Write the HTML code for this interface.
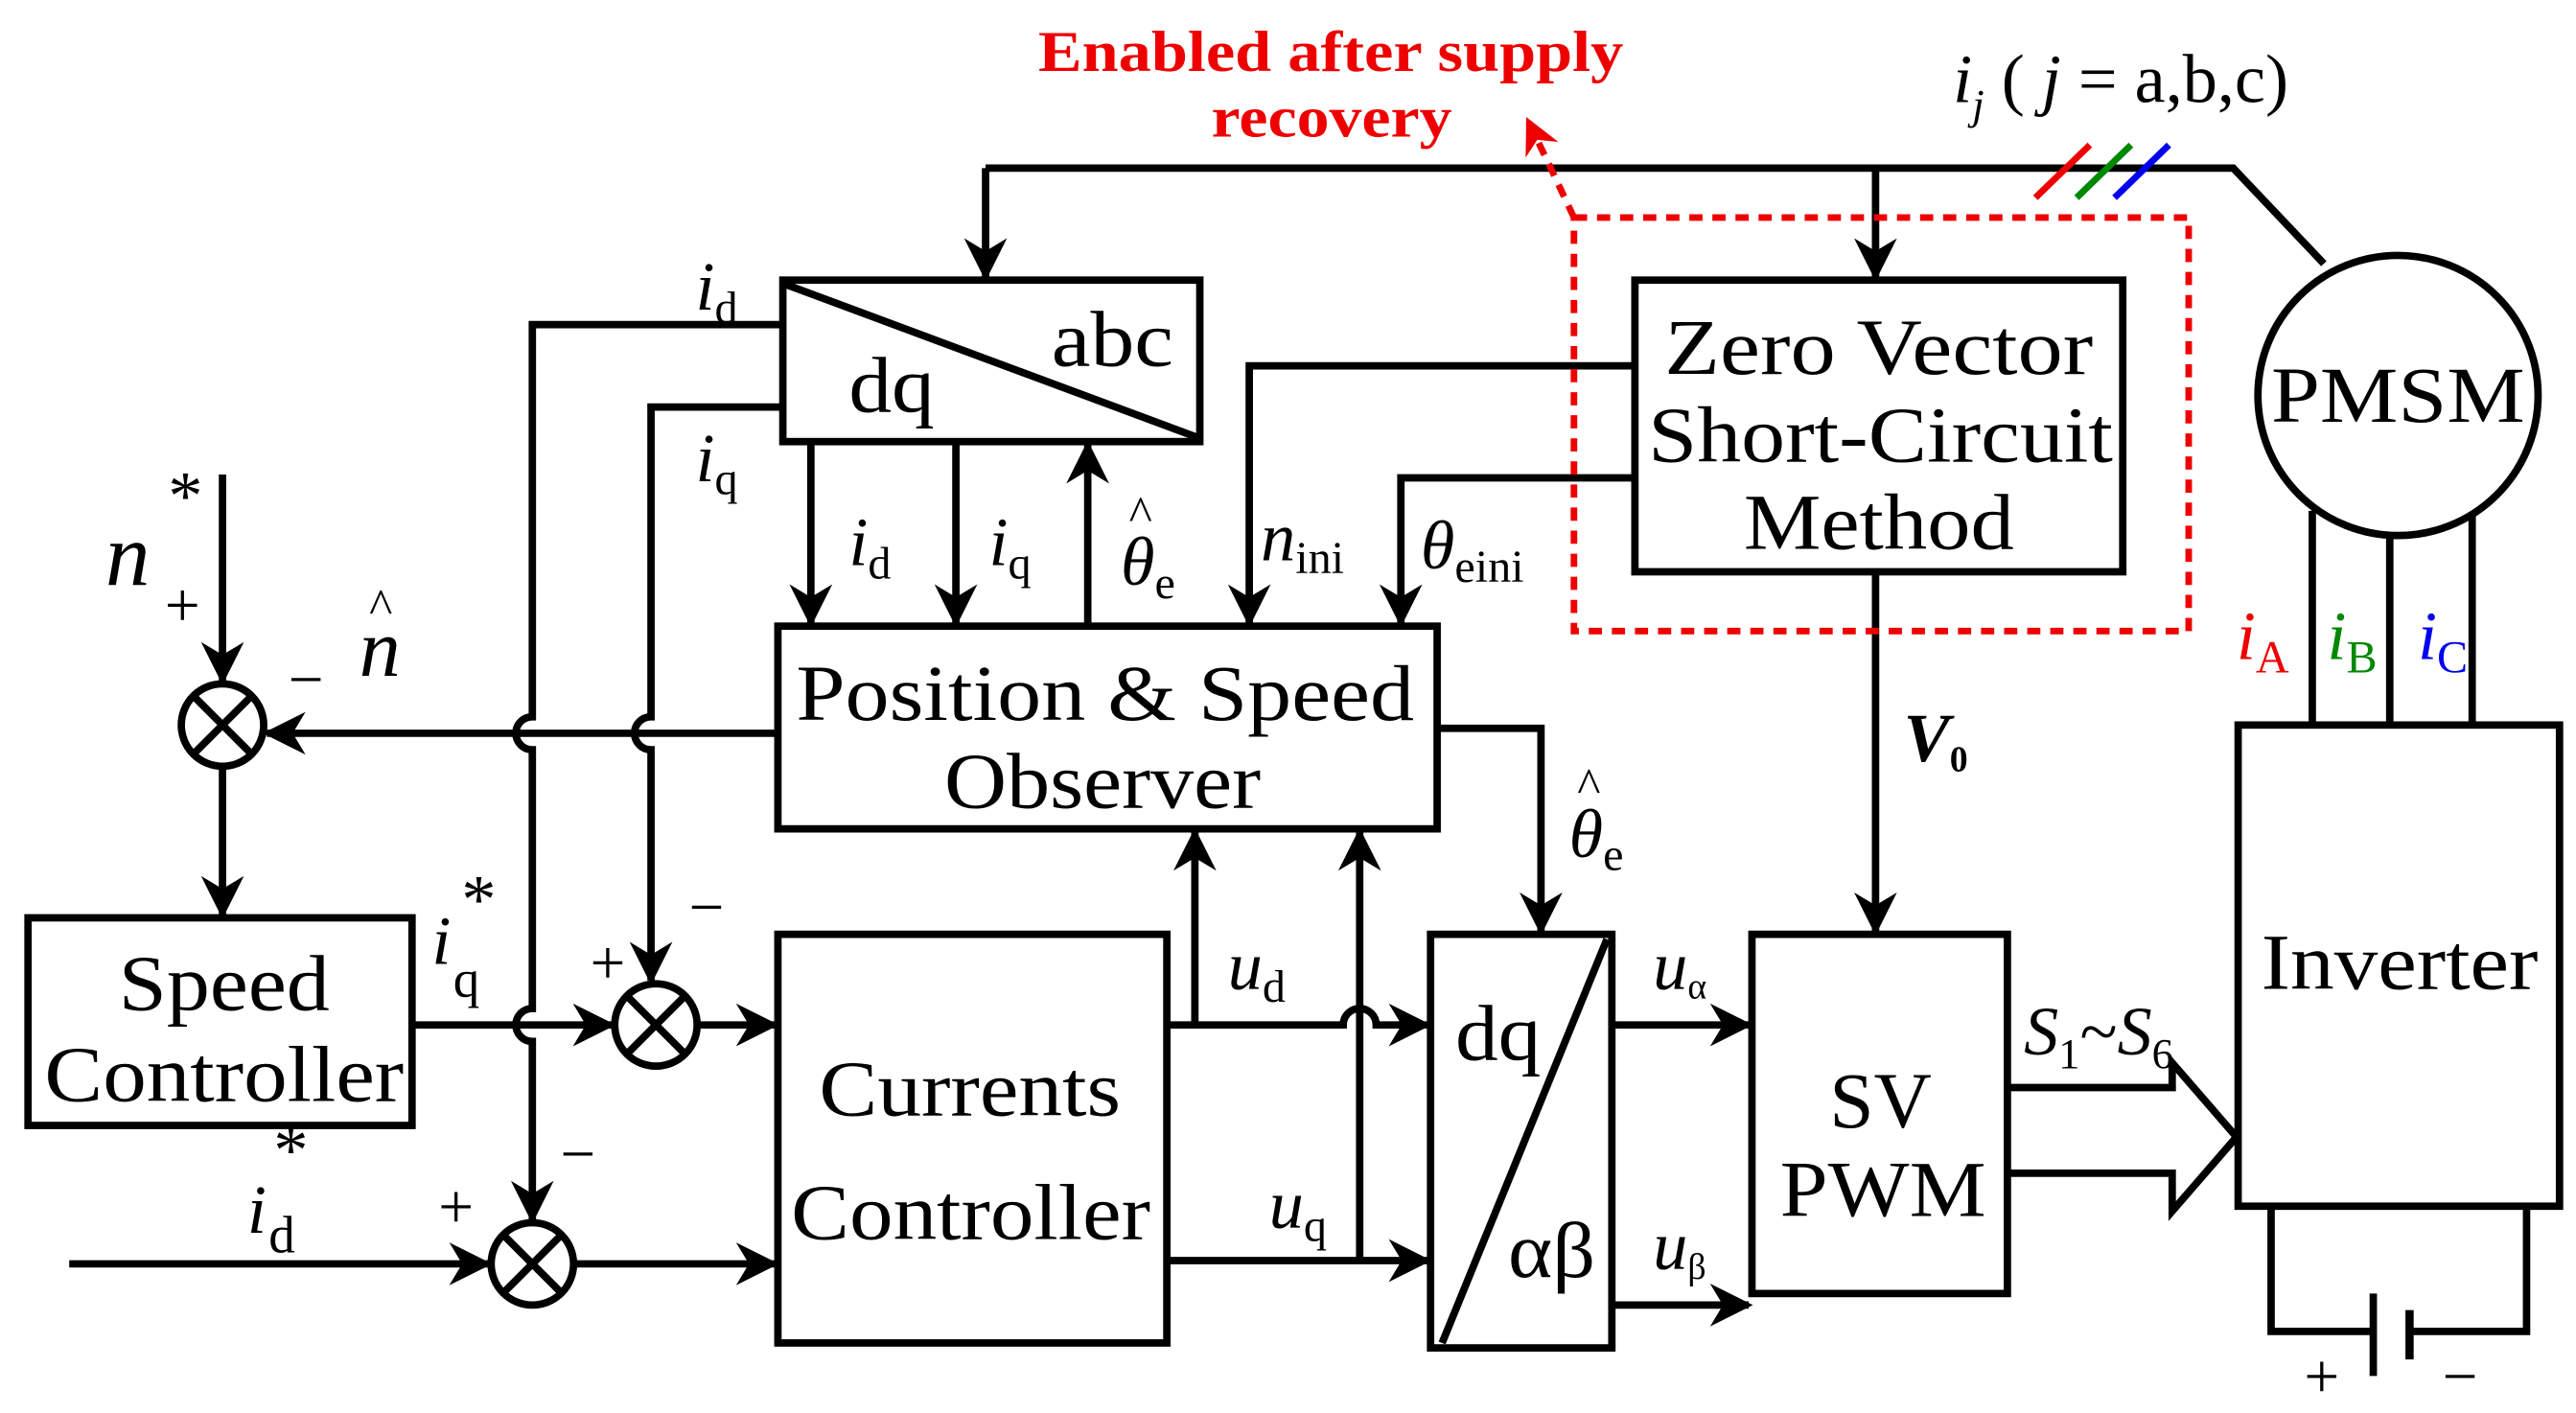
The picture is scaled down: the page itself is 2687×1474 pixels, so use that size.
<!DOCTYPE html>
<html><head><meta charset="utf-8"><style>html,body{margin:0;padding:0;background:#fff}svg{display:block}text{font-family:"Liberation Serif",serif}</style></head><body>
<svg width="2687" height="1474" viewBox="0 0 1563 857.5" preserveAspectRatio="none" xmlns="http://www.w3.org/2000/svg">
<defs><marker id="ar" viewBox="0 0 10 10" markerWidth="22" markerHeight="22" refX="9" refY="5" orient="auto" markerUnits="userSpaceOnUse"><path d="M0,0 L10,5 L0,10 L3,5 z" fill="#e00"/></marker>
<marker id="b" viewBox="0 0 10 10" markerWidth="26" markerHeight="26" refX="9" refY="5" orient="auto" markerUnits="userSpaceOnUse"><path d="M0,0 L10,5 L0,10 L3,5 z" fill="#000"/></marker></defs>
<g fill="none" stroke="#000" stroke-width="4.5">
<polyline points="598,102 1355,102 1410,160"/>
<line x1="598" y1="102" x2="598" y2="168" marker-end="url(#b)"/>
<line x1="1138" y1="102" x2="1138" y2="168" marker-end="url(#b)"/>
<rect x="475" y="170" width="253" height="98"/>
<line x1="475" y1="172" x2="728" y2="266"/>
<rect x="992" y="170" width="296" height="177"/>
<circle cx="1455" cy="240" r="85"/>
<line x1="1403" y1="310" x2="1403" y2="440"/><line x1="1450" y1="325" x2="1450" y2="440"/><line x1="1500" y1="312" x2="1500" y2="440"/>
<rect x="1358" y="440" width="195" height="292"/>
<polyline points="1378,732 1378,808 1440,808"/><polyline points="1533,732 1533,808 1462,808"/>
<line x1="1440" y1="785" x2="1440" y2="835"/><line x1="1462" y1="795" x2="1462" y2="825" stroke-width="5"/>
<rect x="1063" y="567" width="155" height="218"/>
<line x1="1138" y1="347" x2="1138" y2="565" marker-end="url(#b)"/>
<path d="M1218,660 L1318,660 L1318,645 L1357,690 L1318,735 L1318,712 L1218,712"/>
<rect x="868" y="567" width="110" height="251"/>
<line x1="875" y1="815" x2="975" y2="570"/>
<line x1="978" y1="622" x2="1061" y2="622" marker-end="url(#b)"/>
<line x1="978" y1="792" x2="1061" y2="792" marker-end="url(#b)"/>
<rect x="472" y="380" width="400" height="123"/>
<rect x="472" y="567" width="236" height="248"/>
<path d="M708,622 L815,622 A10,10 0 0 1 835,622 L866,622" marker-end="url(#b)"/>
<line x1="708" y1="765" x2="866" y2="765" marker-end="url(#b)"/>
<line x1="725" y1="622" x2="725" y2="505" marker-end="url(#b)"/>
<line x1="825" y1="765" x2="825" y2="505" marker-end="url(#b)"/>
<polyline points="872,442 935,442 935,565" marker-end="url(#b)"/>
<line x1="492" y1="268" x2="492" y2="378" marker-end="url(#b)"/>
<line x1="580" y1="268" x2="580" y2="378" marker-end="url(#b)"/>
<line x1="660" y1="380" x2="660" y2="270" marker-end="url(#b)"/>
<polyline points="992,222 758,222 758,378" marker-end="url(#b)"/>
<polyline points="992,290 850,290 850,378" marker-end="url(#b)"/>
<path d="M475,197 L323,197 L323,435 A10,10 0 0 0 323,455 L323,612 A10,10 0 0 0 323,632 L323,740" marker-end="url(#b)"/>
<circle cx="323" cy="767" r="25"/>
<line x1="305" y1="749" x2="341" y2="785"/><line x1="341" y1="749" x2="305" y2="785"/>
<path d="M475,247 L395,247 L395,435 A10,10 0 0 0 395,455 L395,595" marker-end="url(#b)"/>
<circle cx="398" cy="622" r="25"/>
<line x1="380" y1="604" x2="416" y2="640"/><line x1="416" y1="604" x2="380" y2="640"/>
<line x1="472" y1="445" x2="162" y2="445" marker-end="url(#b)"/>
<circle cx="135" cy="440" r="25"/>
<line x1="117" y1="422" x2="153" y2="458"/><line x1="153" y1="422" x2="117" y2="458"/>
<line x1="135" y1="288" x2="135" y2="413" marker-end="url(#b)"/>
<line x1="135" y1="465" x2="135" y2="555" marker-end="url(#b)"/>
<rect x="17" y="557" width="233" height="126"/>
<line x1="250" y1="622" x2="371" y2="622" marker-end="url(#b)"/>
<line x1="423" y1="622" x2="470" y2="622" marker-end="url(#b)"/>
<line x1="42" y1="767" x2="296" y2="767" marker-end="url(#b)"/>
<line x1="348" y1="767" x2="470" y2="767" marker-end="url(#b)"/>
</g>
<g stroke-width="4"><line x1="1235" y1="120" x2="1268" y2="88" stroke="#e00"/><line x1="1260" y1="120" x2="1293" y2="88" stroke="#080"/><line x1="1283" y1="120" x2="1316" y2="88" stroke="#00e"/></g>
<rect x="955" y="132" width="373" height="251" fill="none" stroke="#e00" stroke-width="4" stroke-dasharray="8,6"/>
<polyline points="955,132 940,100 927,73" fill="none" stroke="#e00" stroke-width="4" stroke-dasharray="8,6" marker-end="url(#ar)"/>
<g fill="#e00" font-weight="bold" font-size="35"><text x="630" y="43" textLength="355" lengthAdjust="spacingAndGlyphs">Enabled after supply</text><text x="735" y="83" textLength="146" lengthAdjust="spacingAndGlyphs">recovery</text></g>
<g font-size="48" lengthAdjust="spacingAndGlyphs">
<text x="638" y="222" textLength="74" lengthAdjust="spacingAndGlyphs">abc</text><text x="515" y="250" textLength="52" lengthAdjust="spacingAndGlyphs">dq</text>
<text x="1010" y="227" textLength="260" lengthAdjust="spacingAndGlyphs">Zero Vector</text>
<text x="1000" y="280" textLength="282" lengthAdjust="spacingAndGlyphs">Short-Circuit</text>
<text x="1058" y="333" textLength="164" lengthAdjust="spacingAndGlyphs">Method</text>
<text x="1378" y="256" textLength="154" lengthAdjust="spacingAndGlyphs">PMSM</text>
<text x="1372" y="600" textLength="168" lengthAdjust="spacingAndGlyphs">Inverter</text>
<text x="1110" y="684" textLength="62" lengthAdjust="spacingAndGlyphs">SV</text>
<text x="1080" y="738" textLength="125" lengthAdjust="spacingAndGlyphs">PWM</text>
<text x="883" y="643" textLength="52" lengthAdjust="spacingAndGlyphs">dq</text>
<text x="915" y="775" textLength="53" lengthAdjust="spacingAndGlyphs">αβ</text>
<text x="483" y="437" textLength="375" lengthAdjust="spacingAndGlyphs">Position &amp; Speed</text>
<text x="573" y="490" textLength="192" lengthAdjust="spacingAndGlyphs">Observer</text>
<text x="497" y="677" textLength="183" lengthAdjust="spacingAndGlyphs">Currents</text>
<text x="480" y="752" textLength="218" lengthAdjust="spacingAndGlyphs">Controller</text>
<text x="72" y="613" textLength="128" lengthAdjust="spacingAndGlyphs">Speed</text>
<text x="27" y="668" textLength="218" lengthAdjust="spacingAndGlyphs">Controller</text>
</g>
<g font-size="42" font-style="italic">
<text x="1185" y="62">i<tspan font-size="26" dy="10">j</tspan><tspan dy="-10" font-style="normal"> ( </tspan>j<tspan font-style="normal"> = a,b,c)</tspan></text>
<text x="422" y="188">i<tspan font-size="28" dy="8" font-style="normal">d</tspan></text>
<text x="422" y="292">i<tspan font-size="28" dy="8" font-style="normal">q</tspan></text>
<text x="515" y="343">i<tspan font-size="28" dy="8" font-style="normal">d</tspan></text>
<text x="600" y="343">i<tspan font-size="28" dy="8" font-style="normal">q</tspan></text>
<text x="680" y="355">θ<tspan font-size="28" dy="8" font-style="normal">e</tspan></text>
<text x="685" y="322" font-style="normal" font-size="30">^</text>
<text x="765" y="340">n<tspan font-size="28" dy="8" font-style="normal">ini</tspan></text>
<text x="862" y="345">θ<tspan font-size="28" dy="8" font-style="normal">eini</tspan></text>
<text x="1357" y="400" fill="#e00">i<tspan font-size="28" dy="8" font-style="normal">A</tspan></text>
<text x="1412" y="400" fill="#080">i<tspan font-size="28" dy="8" font-style="normal">B</tspan></text>
<text x="1467" y="400" fill="#00e">i<tspan font-size="28" dy="8" font-style="normal">C</tspan></text>
<text x="1155" y="462" font-weight="bold">V<tspan font-size="22" dy="6" font-style="normal">0</tspan></text>
<text x="952" y="520">θ<tspan font-size="28" dy="8" font-style="normal">e</tspan></text>
<text x="957" y="487" font-style="normal" font-size="30">^</text>
<text x="1228" y="640">S<tspan font-size="26" dy="8" font-style="normal">1</tspan><tspan dy="-8" font-style="normal">~</tspan>S<tspan font-size="26" dy="8" font-style="normal">6</tspan></text>
<text x="1003" y="600">u<tspan font-size="22" dy="6" font-style="normal">α</tspan></text>
<text x="1003" y="770">u<tspan font-size="22" dy="6" font-style="normal">β</tspan></text>
<text x="745" y="600">u<tspan font-size="28" dy="8" font-style="normal">d</tspan></text>
<text x="770" y="745">u<tspan font-size="28" dy="8" font-style="normal">q</tspan></text>
<text x="64" y="355" font-size="54">n</text><text x="102" y="315" font-style="normal">*</text>
<text x="218" y="410" font-size="50">n</text><text x="224" y="378" font-style="normal" font-size="30">^</text>
<text x="262" y="585">i</text><text x="280" y="560" font-style="normal">*</text><text x="275" y="605" font-style="normal" font-size="32">q</text>
<text x="150" y="748">i</text><text x="166" y="712" font-style="normal">*</text><text x="163" y="760" font-style="normal" font-size="32">d</text>
</g>
<g font-size="38">
<text x="100" y="380">+</text><text x="175" y="425">−</text>
<text x="358" y="597">+</text><text x="418" y="563">−</text>
<text x="266" y="745">+</text><text x="340" y="713">−</text>
<text x="1398" y="848">+</text><text x="1482" y="848">−</text>
</g>
</svg>
</body></html>
